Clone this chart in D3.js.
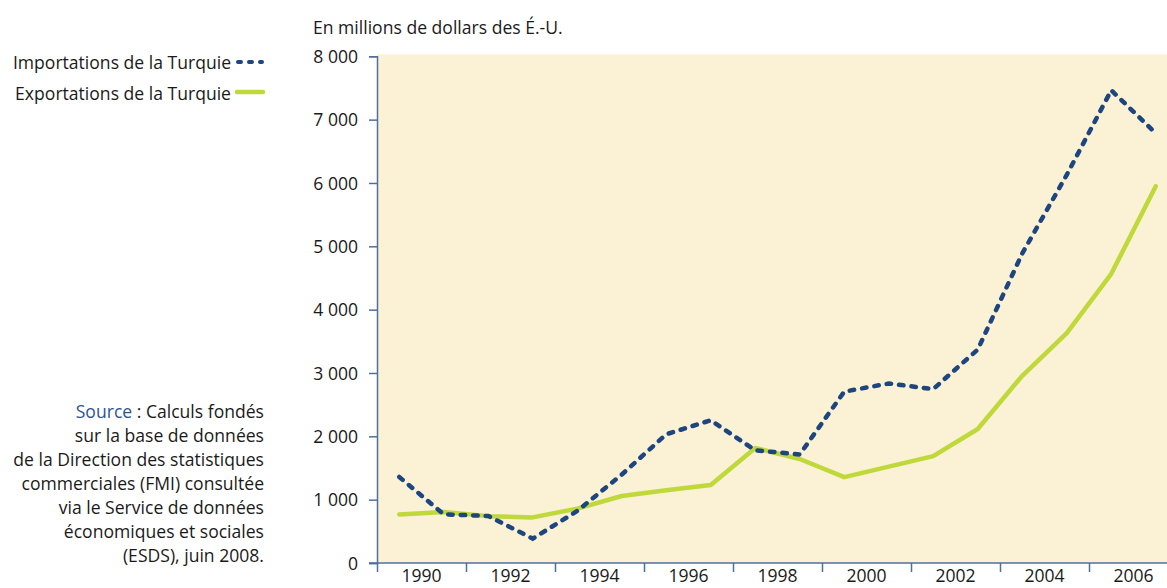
<!DOCTYPE html>
<html>
<head>
<meta charset="utf-8">
<script src="https://cdn.jsdelivr.net/npm/d3@7"></script>
<style>
  body { margin: 0; background: #fff; }
  svg text { font-family: "Open Sans", sans-serif; fill: #1a1a1a; font-size: 19px; }
</style>
</head>
<body>
<div class="chart"></div>
<script>
var years = [1990, 1991, 1992, 1993, 1994, 1995, 1996, 1997, 1998, 1999,
             2000, 2001, 2002, 2003, 2004, 2005, 2006, 2007],
    imports = [1358, 769, 742, 385, 822, 1396, 2032, 2253, 1779, 1714,
               2706, 2834, 2746, 3370, 4887, 6128, 7464, 6785],
    exports = [766, 806, 740, 720, 858, 1058, 1148, 1232, 1816, 1642,
               1355, 1521, 1687, 2116, 2956, 3629, 4566, 5948],
    yTicks = [0, 1000, 2000, 3000, 4000, 5000, 6000, 7000, 8000],
    xLabels = [1990, 1992, 1994, 1996, 1998, 2000, 2002, 2004, 2006],
    sourceLines = ["sur la base de données",
                   "de la Direction des statistiques",
                   "commerciales (FMI) consultée",
                   "via le Service de données",
                   "économiques et sociales",
                   "(ESDS), juin 2008."];

var width = 1167, height = 588,
    axisColor = "#4f6f9f",
    blue = "#1d4580",
    green = "#bfd83a",
    squeeze = 0.925;   // the original face is narrower than Open Sans

var svg = d3.select(".chart").append("svg")
    .attr("width", width)
    .attr("height", height);

// one band of 44.5px per year, ticks on the edges of each pair of years
var xScale = d3.scaleLinear().domain([1989.5, 2007.5]).range([377, 1178]),
    yScale = d3.scaleLinear().domain([0, 8000]).range([563, 56.3]);

var fr = d3.formatLocale({decimal: ",", thousands: " ", grouping: [3], currency: ["", " $"]});

function label(parent, x, y, anchor, txt) {
    return parent.append("text")
        .attr("transform", "translate(" + x + "," + y + ") scale(" + squeeze + ",1)")
        .attr("text-anchor", anchor)
        .text(txt);
}

svg.append("rect")
    .attr("x", xScale(1989.5))
    .attr("y", yScale(8000) - 2)
    .attr("width", width - xScale(1989.5))
    .attr("height", yScale(0) - yScale(8000) + 2)
    .attr("fill", "#fbf1d4");

var yAxis = d3.axisLeft(yScale)
    .tickValues(yTicks)
    .tickSize(8)
    .tickPadding(12.5)
    .tickFormat(fr.format(",d"));

var gy = svg.append("g")
    .attr("transform", "translate(" + xScale(1989.5) + ",0)")
    .call(yAxis);
gy.select(".domain").attr("stroke", axisColor).attr("stroke-width", 1.5);
gy.selectAll(".tick line").attr("stroke", axisColor).attr("stroke-width", 1.5);
gy.selectAll(".tick text")
    .attr("fill", "#1a1a1a")
    .style("font-size", "19px")
    .attr("transform", "scale(" + squeeze + ",1)");

var tickYears = d3.range(1989.5, 2008, 2);
var xAxis = d3.axisBottom(xScale)
    .tickValues(tickYears)
    .tickSize(9)
    .tickFormat("");

var gx = svg.append("g")
    .attr("transform", "translate(0," + yScale(0) + ")")
    .call(xAxis);
gx.select(".domain").attr("stroke", axisColor).attr("stroke-width", 1.5)
    .attr("d", "M" + (xScale(1989.5) - 8) + ",0H" + width);
gx.selectAll(".tick line").attr("stroke", axisColor).attr("stroke-width", 1.5);

var gxl = svg.append("g");
xLabels.forEach(function(d) {
    label(gxl, xScale(d + 0.5), 582, "middle", d);
});

var line = d3.line()
    .x(function(d, i) { return xScale(years[i]); })
    .y(function(d) { return yScale(d); });

svg.append("path")
    .datum(exports)
    .attr("d", line)
    .attr("fill", "none")
    .attr("stroke", green)
    .attr("stroke-width", 4.5)
    .attr("stroke-linejoin", "round")
    .attr("stroke-linecap", "round");

svg.append("path")
    .datum(imports)
    .attr("d", line)
    .attr("fill", "none")
    .attr("stroke", blue)
    .attr("stroke-width", 4.5)
    .attr("stroke-dasharray", "4.5,8")
    .attr("stroke-linecap", "round");

// unit label
label(svg, 313, 34, "start", "En millions de dollars des É.-U.");

// legend
label(svg, 231, 69, "end", "Importations de la Turquie");
svg.append("line")
    .attr("x1", 238).attr("x2", 262)
    .attr("y1", 62).attr("y2", 62)
    .attr("stroke", blue)
    .attr("stroke-width", 4)
    .attr("stroke-dasharray", "3,8")
    .attr("stroke-linecap", "round");

label(svg, 231, 100, "end", "Exportations de la Turquie");
svg.append("line")
    .attr("x1", 237).attr("x2", 263)
    .attr("y1", 92).attr("y2", 92)
    .attr("stroke", green)
    .attr("stroke-width", 4.5)
    .attr("stroke-linecap", "round");

// source note
var src = svg.append("g");
var first = label(src, 264, 418, "end", null);
first.append("tspan").style("fill", "#2d5590").text("Source");
first.append("tspan").text(" : Calculs fondés");
sourceLines.forEach(function(d, i) {
    label(src, 264, 442 + i * 23.9, "end", d);
});
</script>
</body>
</html>
